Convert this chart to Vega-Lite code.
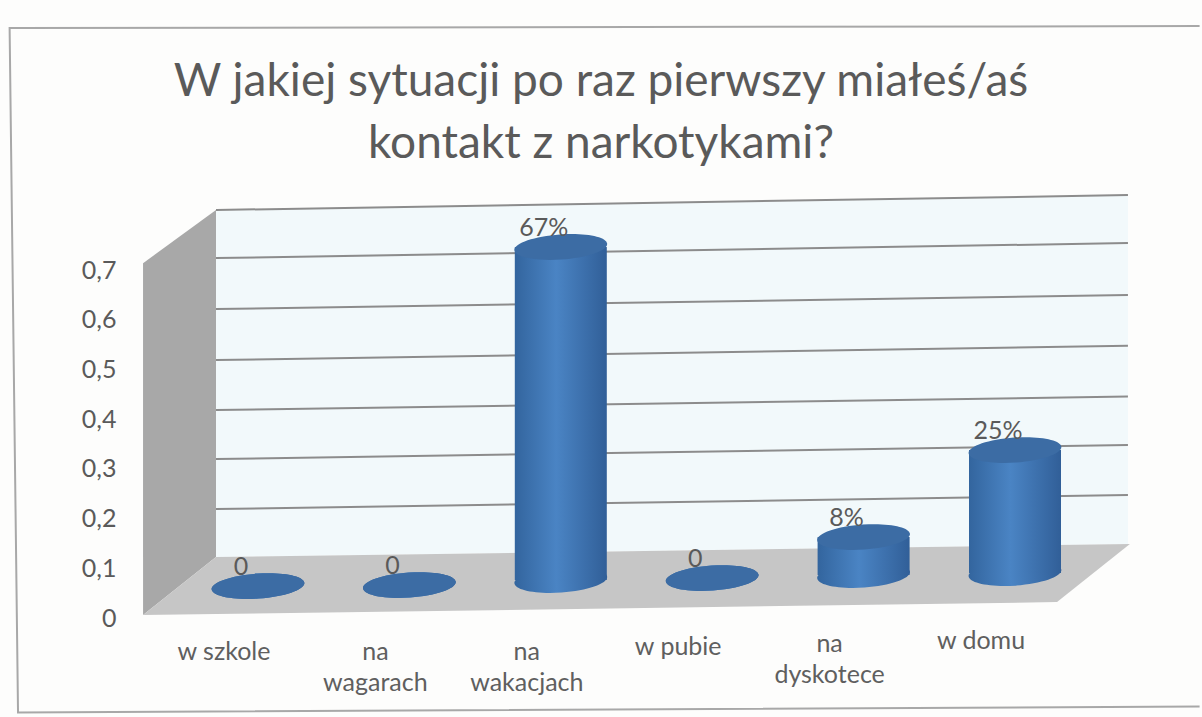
{
"$schema":"https://vega.github.io/schema/vega-lite/v6.json",
"width":1202,"height":717,"autosize":{"type":"none"},"padding":0,"background":"#fdfdfc",
"title":{"text":["W jakiej sytuacji po raz pierwszy miałeś/aś","kontakt z narkotykami?"],"font":"Lato","fontSize":46,"fontWeight":"normal","color":"#5a5a5a","anchor":"middle","frame":"group","offset":-168,"lineHeight":62},
"config":{"view":{"stroke":null},"text":{"font":"Lato"}},
"datasets":{
"cats":[
{"category":"w szkole","value":0,"floor":0.0644,"top":0.0644,"label":"0","caption":"w szkole","captionAt":-0.045},
{"category":"na wagarach","value":0,"floor":0.0664,"top":0.0664,"label":"0","caption":"na\nwagarach","captionAt":-0.045},
{"category":"na wakacjach","value":0.67,"floor":0.0765,"top":0.7465,"label":"67%","caption":"na\nwakacjach","captionAt":-0.045},
{"category":"w pubie","value":0,"floor":0.0805,"top":0.0805,"label":"0","caption":"w pubie","captionAt":-0.035},
{"category":"na dyskotece","value":0.08,"floor":0.0865,"top":0.163,"label":"8%","caption":"na\ndyskotece","captionAt":-0.027},
{"category":"w domu","value":0.25,"floor":0.0905,"top":0.338,"label":"25%","caption":"w domu","captionAt":-0.021}],
"leftWall":[{"across":11.9,"upper":0.714,"lower":0.006},{"across":17.97,"upper":0.821,"lower":0.1227}],
"backWall":[{"across":17.97,"upper":0.821,"lower":0.1227},{"across":93.84,"upper":0.851,"lower":0.1489}],
"floorPlane":[{"across":11.9,"upper":0.006,"lower":0.006},{"across":17.97,"upper":0.1227,"lower":0.008},{"across":87.94,"upper":0.1469,"lower":0.0322},{"across":94.0,"upper":0.1489,"lower":0.1489}],
"grid":[
{"line":"0,2","across":17.97,"level":0.2193},{"line":"0,2","across":93.84,"level":0.2475},
{"line":"0,3","across":17.97,"level":0.3199},{"line":"0,3","across":93.84,"level":0.3481},
{"line":"0,4","across":17.97,"level":0.4185},{"line":"0,4","across":93.84,"level":0.4457},
{"line":"0,5","across":17.97,"level":0.5191},{"line":"0,5","across":93.84,"level":0.5481},
{"line":"0,6","across":17.97,"level":0.6217},{"line":"0,6","across":93.84,"level":0.6499},
{"line":"0,7","across":17.97,"level":0.7243},{"line":"0,7","across":93.84,"level":0.7545},
{"line":"top","across":17.97,"level":0.821},{"line":"top","across":93.84,"level":0.851}],
"frame":[
{"step":1,"across":99.8,"level":1.191},
{"step":2,"across":0.8,"level":1.187},
{"step":3,"across":1.5,"level":-0.19},
{"step":4,"across":99.8,"level":-0.178}]
},
"layer":[
{"data":{"name":"frame"},"mark":{"type":"line","stroke":"#a8a8a8","strokeWidth":2},
 "encoding":{"x":{"field":"across","type":"quantitative","scale":{"domain":[0,100],"range":[0,1202]},"axis":null},
 "y":{"field":"level","type":"quantitative","scale":{"domain":[-0.199,1.2435],"range":[717,0],"nice":false,"zero":false},"axis":{"orient":"left","offset":-116,"values":[0,0.1,0.2,0.3,0.4,0.5,0.6,0.7],"labelExpr":"replace(datum.label,'.',',')","format":".1~f","domain":false,"ticks":false,"grid":false,"labelPadding":0,"labelFont":"Lato","labelFontSize":25,"labelColor":"#5a5a5a","title":null}},
 "order":{"field":"step"}}},
{"data":{"name":"leftWall"},"mark":{"type":"area","color":"#a8a8a8","line":false},
 "encoding":{"x":{"field":"across","type":"quantitative","scale":{"domain":[0,100],"range":[0,1202]},"axis":null},"y":{"field":"upper","type":"quantitative","stack":null,"scale":{"domain":[-0.199,1.2435],"range":[717,0],"nice":false,"zero":false},"axis":null},"y2":{"field":"lower"}}},
{"data":{"name":"backWall"},"mark":{"type":"area","color":"#f2f9fb"},
 "encoding":{"x":{"field":"across","type":"quantitative","scale":{"domain":[0,100],"range":[0,1202]},"axis":null},"y":{"field":"upper","type":"quantitative","stack":null,"scale":{"domain":[-0.199,1.2435],"range":[717,0],"nice":false,"zero":false},"axis":null},"y2":{"field":"lower"}}},
{"data":{"name":"floorPlane"},"mark":{"type":"area","color":"#c6c6c6"},
 "encoding":{"x":{"field":"across","type":"quantitative","scale":{"domain":[0,100],"range":[0,1202]},"axis":null},"y":{"field":"upper","type":"quantitative","stack":null,"scale":{"domain":[-0.199,1.2435],"range":[717,0],"nice":false,"zero":false},"axis":null},"y2":{"field":"lower"}}},
{"data":{"name":"grid"},"mark":{"type":"line","stroke":"#8c8c8c","strokeWidth":2},
 "encoding":{"x":{"field":"across","type":"quantitative","scale":{"domain":[0,100],"range":[0,1202]},"axis":null},"y":{"field":"level","type":"quantitative","scale":{"domain":[-0.199,1.2435],"range":[717,0],"nice":false,"zero":false},"axis":null},"detail":{"field":"line"}}},
{"data":{"name":"cats"},
 "encoding":{"x":{"field":"category","type":"nominal","sort":null,"scale":{"type":"point","domain":["w szkole","na wagarach","na wakacjach","w pubie","na dyskotece","w domu"],"range":[258,1015],"padding":0},"axis":null}},
 "layer":[
 {"mark":{"type":"point","filled":true,"opacity":1,"size":8649,"angle":356,"color":{"gradient":"linear","x1":0,"y1":0,"x2":1,"y2":0,"stops":[{"offset":0,"color":"#33659e"},{"offset":0.45,"color":"#4a84c4"},{"offset":1,"color":"#315f98"}]},"shape":"M-1,0A1,0.27 0 1,0 1,0A1,0.27 0 1,0 -1,0Z"},
  "encoding":{"y":{"field":"floor","type":"quantitative","scale":{"domain":[-0.199,1.2435],"range":[717,0],"nice":false,"zero":false},"axis":null}}},
 {"transform":[{"filter":"datum.value>0"}],"mark":{"type":"bar","size":92,"color":{"gradient":"linear","x1":0,"y1":0,"x2":1,"y2":0,"stops":[{"offset":0,"color":"#33659e"},{"offset":0.45,"color":"#4a84c4"},{"offset":1,"color":"#315f98"}]}},
  "encoding":{"y":{"field":"top","type":"quantitative","scale":{"domain":[-0.199,1.2435],"range":[717,0],"nice":false,"zero":false},"axis":null},"y2":{"field":"floor"}}},
 {"mark":{"type":"point","filled":true,"opacity":1,"size":8649,"angle":356,"color":"#3c6ca4","shape":"M-1,0A1,0.27 0 1,0 1,0A1,0.27 0 1,0 -1,0Z"},
  "encoding":{"y":{"field":"top","type":"quantitative","scale":{"domain":[-0.199,1.2435],"range":[717,0],"nice":false,"zero":false},"axis":null}}},
 {"mark":{"type":"text","font":"Lato","fontSize":25,"color":"#5a5a5a","dx":-17,"dy":-19},
  "encoding":{"y":{"field":"top","type":"quantitative","scale":{"domain":[-0.199,1.2435],"range":[717,0],"nice":false,"zero":false},"axis":null},"text":{"field":"label"}}},
 {"mark":{"type":"text","font":"Lato","fontSize":25,"color":"#5f5f5f","dx":-34,"baseline":"top","lineBreak":"\n","lineHeight":31},
  "encoding":{"y":{"field":"captionAt","type":"quantitative","scale":{"domain":[-0.199,1.2435],"range":[717,0],"nice":false,"zero":false},"axis":null},"text":{"field":"caption"}}}
 ],
 "resolve":{"axis":{"y":"independent"}}}
],
"resolve":{"scale":{"x":"independent"},"axis":{"y":"independent"}}
}
